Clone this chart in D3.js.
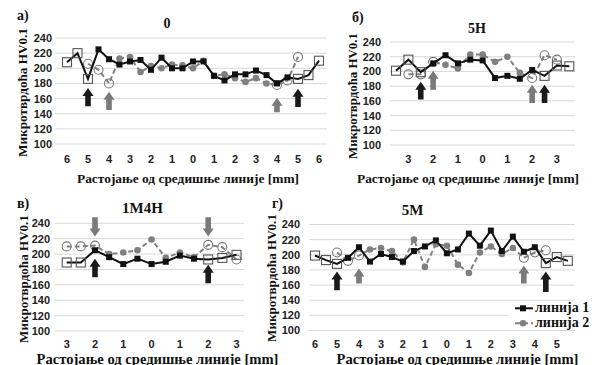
<!DOCTYPE html>
<html><head><meta charset="utf-8">
<script src="https://cdn.jsdelivr.net/npm/d3@7"></script>
<style>body{margin:0;background:#fff}svg{display:block}</style>
</head><body><svg id="c" width="599" height="365"></svg>
<script>
// ---------- DATA ----------
const yTicks = [100,120,140,160,180,200,220,240];

// panel а) 0
const catsA  = [-6,-5.5,-5,-4.5,-4,-3.5,-3,-2.5,-2,-1.5,-1,-0.5,0,0.5,1,1.5,2,2.5,3,3.5,4,4.5,5,5.5,6];
const line1A = [208,220,186,225,212,205,209,211,198,214,200,200,209,209,190,184,192,192,197,191,180,188,186,191,210];
const line2A = [null,null,206,198,180,213,215,195,203,200,205,204,200,210,190,192,187,182,187,180,178,184,215,null,null];
const open1A = [-6,-5.5,-5,5,5.5,6];
const open2A = [-5,-4.5,-4,4,4.5,5];
const tickCatsA = [-6,-5,-4,-3,-2,-1,0,1,2,3,4,5,6];
const tickLabA  = ["6","5","4","3","2","1","0","1","2","3","4","5","6"];
const arrowsA = [{cat:-5,s:1,from:150,to:174},{cat:-4,s:2,from:145,to:169},{cat:4,s:2,from:142,to:161},{cat:5,s:1,from:149,to:173}];

// panel б) 5H
const catsB  = [-3.5,-3,-2.5,-2,-1.5,-1,-0.5,0,0.5,1,1.5,2,2.5,3,3.5];
const line1B = [201,216,199,211,222,211,216,215,191,194,190,202,194,208,207];
const line2B = [null,196,196,213,209,204,223,223,213,220,198,191,222,216,null];
const open1B = [-3.5,-3,-2.5,2.5,3,3.5];
const open2B = [-3,-2.5,-2,2,2.5,3];
const tickCatsB = [-3,-2,-1,0,1,2,3];
const tickLabB  = ["3","2","1","0","1","2","3"];
const arrowsB = [{cat:-2.5,s:1,from:162,to:186},{cat:-2,s:2,from:175,to:201},{cat:2,s:2,from:157,to:182},{cat:2.5,s:1,from:157,to:182}];

// panel в) 1M4H
const catsC  = [-3,-2.5,-2,-1.5,-1,-0.5,0,0.5,1,1.5,2,2.5,3];
const line1C = [189,189,205,196,187,194,187,190,198,194,193,195,199];
const line2C = [210,210,211,200,202,205,219,195,202,196,212,209,193];
const open1C = [-3,-2.5,2,2.5,3];
const open2C = [-3,-2.5,-2,2,2.5,3];
const tickCatsC = [-3,-2,-1,0,1,2,3];
const tickLabC  = ["3","2","1","0","1","2","3"];
const arrowsC = [{cat:-2,s:2,from:248,to:223},{cat:2,s:2,from:248,to:223},{cat:-2,s:1,from:170,to:194},{cat:2,s:1,from:162,to:186}];

// panel г) 5M
const catsD  = [-6,-5.5,-5,-4.5,-4,-3.5,-3,-2.5,-2,-1.5,-1,-0.5,0,0.5,1,1.5,2,2.5,3,3.5,4,4.5,5,5.5];
const line1D = [199,193,188,196,210,191,201,197,191,205,211,219,202,207,228,212,232,205,224,204,210,189,197,192];
const line2D = [null,null,203,192,199,207,209,205,190,220,184,214,212,187,176,203,211,201,209,196,203,206,null,null];
const open1D = [-6,-5.5,-5,4.5,5,5.5];
const open2D = [-5,-4.5,-4,3.5,4,4.5];
const tickCatsD = [-6,-5,-4,-3,-2,-1,0,1,2,3,4,5];
const tickLabD  = ["6","5","4","3","2","1","0","1","2","3","4","5"];
const arrowsD = [{cat:-5,s:1,from:153,to:178},{cat:-4,s:2,from:162,to:182},{cat:3.5,s:2,from:162,to:186},{cat:4.5,s:1,from:151,to:178}];

const yTitle = "Микротврдоћа HV0.1";
const xTitle = "Растојање од средишње линије [mm]";
const legendNames = ["линија 1","линија 2"];

// ---------- LAYOUT ----------
const SERIF = "'Liberation Serif','Times New Roman',serif";
const SANS  = "'Liberation Sans',Arial,sans-serif";
const C1 = "#111", C2 = "#808080", GRID = "#d9d9d9";

const panels = [
  {sub:"а)", title:"0", cats:catsA, l1:line1A, l2:line2A, o1:open1A, o2:open2A, tc:tickCatsA, tl:tickLabA, arrows:arrowsA,
   xr:[67,319], grid:[55,327], yr:[144,38], ylx:52, xly:162.5, tpos:[167,28], spos:[17,20], ytpos:[22,92.5], ytw:129, xtpos:[188,183], xfs:13.4, tfs:14},
  {sub:"б)", title:"5H", cats:catsB, l1:line1B, l2:line2B, o1:open1B, o2:open2B, tc:tickCatsB, tl:tickLabB, arrows:arrowsB,
   xr:[396,569.3], grid:[390,575], yr:[145,42], ylx:381, xly:162.5, tpos:[477,33], spos:[352,22], ytpos:[352.5,96], ytw:126, xtpos:[468,183], xfs:13.4, tfs:14},
  {sub:"в)", title:"1M4H", cats:catsC, l1:line1C, l2:line2C, o1:open1C, o2:open2C, tc:tickCatsC, tl:tickLabC, arrows:arrowsC,
   xr:[66.7,236.5], grid:[54,244], yr:[331,223.3], ylx:50, xly:347.5, tpos:[142.5,213], spos:[17,208], ytpos:[23,279], ytw:128, xtpos:[157.5,363.5], xfs:14.6, tfs:15},
  {sub:"г)", title:"5M", cats:catsD, l1:line1D, l2:line2D, o1:open1D, o2:open2D, tc:tickCatsD, tl:tickLabD, arrows:arrowsD,
   xr:[315,567.8], grid:[309,575], yr:[330.5,224.5], ylx:300, xly:347.5, tpos:[412.5,215], spos:[272,208], ytpos:[271.7,278], ytw:128, xtpos:[457.5,363.5], xfs:14.6, tfs:15, legend:true}
];

const svg = d3.select("#c");
svg.append("rect").attr("width",599).attr("height",365).attr("fill","#fff");

function fit(sel, w){
  const len = sel.node().getComputedTextLength();
  const fs = parseFloat(sel.attr("font-size"));
  sel.attr("font-size", (fs*w/len).toFixed(2));
}

function arrowPath(cx, ty, by){
  const d = by > ty ? 1 : -1; // tip at ty
  const hh = 8*d, hw = 5.5, sw = 2.8;
  return `M${cx},${ty}L${cx+hw},${ty+hh}L${cx+sw},${ty+hh}L${cx+sw},${by}L${cx-sw},${by}L${cx-sw},${ty+hh}L${cx-hw},${ty+hh}Z`;
}

panels.forEach(p => {
  const g = svg.append("g");
  const x = d3.scalePoint().domain(p.cats).range(p.xr);
  const y = d3.scaleLinear().domain([100,240]).range(p.yr);

  g.selectAll("line.grid").data(yTicks).join("line")
    .attr("x1",p.grid[0]).attr("x2",p.grid[1])
    .attr("y1",d=>y(d)).attr("y2",d=>y(d))
    .attr("stroke",GRID).attr("stroke-width",1);

  g.selectAll("text.yt").data(yTicks).join("text")
    .attr("x",p.ylx).attr("y",d=>y(d)).attr("dy","0.36em")
    .attr("text-anchor","end").attr("font-family",SANS).attr("font-weight","bold")
    .attr("font-size",11).attr("fill","#222").text(d=>d);

  g.selectAll("text.xt").data(p.tc).join("text")
    .attr("x",d=>x(d)).attr("y",p.xly)
    .attr("text-anchor","middle").attr("font-family",SANS).attr("font-weight","bold")
    .attr("font-size",11).attr("fill","#222").text((d,i)=>p.tl[i]);

  g.append("text").attr("x",p.tpos[0]).attr("y",p.tpos[1]).attr("text-anchor","middle")
    .attr("font-family",SERIF).attr("font-weight","bold").attr("font-size",p.tfs).attr("fill","#111").text(p.title);
  g.append("text").attr("x",p.spos[0]).attr("y",p.spos[1])
    .attr("font-family",SERIF).attr("font-weight","bold").attr("font-size",14).attr("fill","#111").text(p.sub);
  const yt = g.append("text").attr("transform",`translate(${p.ytpos[0]+4.5},${p.ytpos[1]}) rotate(-90)`)
    .attr("text-anchor","middle").attr("font-family",SERIF).attr("font-weight","bold")
    .attr("font-size",12.5).attr("fill","#111").text(yTitle);
  fit(yt, p.ytw);
  g.append("text").attr("x",p.xtpos[0]).attr("y",p.xtpos[1]).attr("text-anchor","middle")
    .attr("font-family",SERIF).attr("font-weight","bold").attr("font-size",p.xfs).attr("fill","#111").text(xTitle);

  const pts1 = p.cats.map((c,i)=>({c, v:p.l1[i]}));
  const pts2 = p.cats.map((c,i)=>({c, v:p.l2[i]}));
  const line = d3.line().defined(d=>d.v!=null).x(d=>x(d.c)).y(d=>y(d.v));

  g.append("path").attr("d",line(pts2)).attr("fill","none").attr("stroke",C2)
    .attr("stroke-width",2).attr("stroke-dasharray","5,3");
  const s2 = pts2.filter(d=>d.v!=null);
  g.selectAll("circle.m2").data(s2).join("circle")
    .attr("cx",d=>x(d.c)).attr("cy",d=>y(d.v))
    .attr("r",d=>p.o2.includes(d.c)?4.5:3.3)
    .attr("fill",d=>p.o2.includes(d.c)?"none":C2)
    .attr("stroke",d=>p.o2.includes(d.c)?"#777":"none").attr("stroke-width",1.1);

  g.append("path").attr("d",line(pts1)).attr("fill","none").attr("stroke",C1).attr("stroke-width",2);
  g.selectAll("rect.m1").data(pts1.filter(d=>d.v!=null)).join("rect")
    .each(function(d){
      const o = p.o1.includes(d.c), s = o?9:6;
      d3.select(this).attr("x",x(d.c)-s/2).attr("y",y(d.v)-s/2).attr("width",s).attr("height",s)
        .attr("fill",o?"none":C1).attr("stroke",o?"#555":"none").attr("stroke-width",1.1);
    });

  g.selectAll("path.ar").data(p.arrows).join("path")
    .attr("d",d=>arrowPath(x(d.cat), y(d.to), y(d.from)))
    .attr("fill",d=>d.s===1?"#1a1a1a":"#7a7a7a");

  if(p.legend){
    const lg = g.append("g");
    lg.append("rect").attr("x",508).attr("y",303).attr("width",88).attr("height",26).attr("fill","#fff");
    [[308.3,C1,null],[323.3,C2,"5,3"]].forEach((r,i)=>{
      lg.append("line").attr("x1",515).attr("x2",533).attr("y1",r[0]).attr("y2",r[0])
        .attr("stroke",r[1]).attr("stroke-width",2).attr("stroke-dasharray",r[2]);
      if(i===0) lg.append("rect").attr("x",520).attr("y",r[0]-3).attr("width",6).attr("height",6).attr("fill",C1);
      else lg.append("circle").attr("cx",523).attr("cy",r[0]).attr("r",3.3).attr("fill",C2);
      lg.append("text").attr("x",535).attr("y",r[0]+4).attr("font-family",SERIF).attr("font-weight","bold")
        .attr("font-size",14).attr("fill","#111").text(legendNames[i]);
    });
  }
});
</script></body></html>
